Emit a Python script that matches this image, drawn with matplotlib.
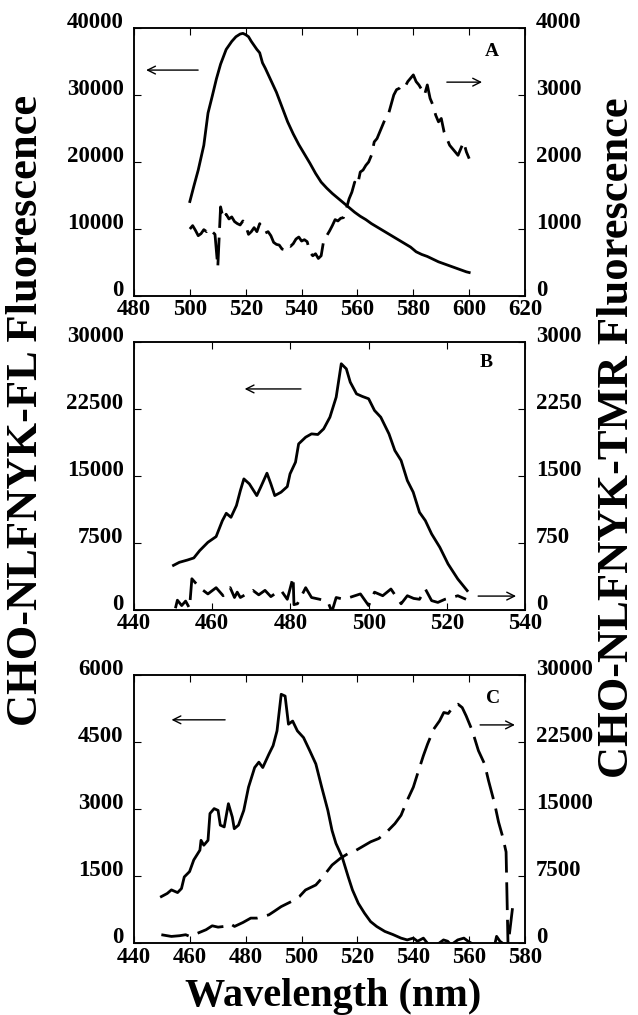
import numpy as np
import matplotlib.pyplot as plt

plt.rcParams['font.family'] = ['Liberation Serif', 'DejaVu Serif']
plt.rcParams['font.weight'] = 'bold'

# ---- panel A (FL left axis, TMR right axis)
a_fl_x = [500, 501.5, 503, 505, 506.5, 508, 509.5, 511, 513, 515, 516.5, 518, 519, 520, 521, 522, 523,
          524, 525, 526, 527, 529, 531, 533, 535, 537, 539, 541, 543, 545, 547, 549, 551, 553, 555, 557,
          559, 561, 563, 565, 567, 569, 571, 573, 575, 577, 579, 581, 583, 585, 587, 589, 591, 593, 595,
          597, 599, 600]
a_fl_y = [14100, 16500, 18800, 22500, 27300, 29800, 32400, 34600, 36800, 38000, 38700, 39100, 39200,
          39000, 38700, 38000, 37400, 36800, 36300, 34800, 34000, 32200, 30400, 28200, 26000, 24200,
          22600, 21200, 19800, 18300, 17000, 16100, 15300, 14600, 13900, 13200, 12500, 11900, 11400,
          10800, 10300, 9800, 9300, 8800, 8300, 7800, 7300, 6600, 6200, 5900, 5500, 5100, 4800, 4500,
          4200, 3900, 3600, 3500]
a_tmr_x = list(range(500, 601))
a_tmr_y = [1000, 1050, 980, 900, 930, 990, 960, 1010, 960, 920, 430, 1330, 1150, 1220, 1150, 1180, 1110,
           1080, 1060, 1120, 1050, 920, 960, 1020, 960, 1080, 1000, 940, 960, 900, 800, 770, 760, 700,
           690, 760, 740, 780, 850, 880, 820, 840, 810, 650, 600, 630, 560, 600, 850, 900, 970, 1050,
           1140, 1120, 1160, 1170, 1300, 1450, 1550, 1700, 1650, 1850, 1880, 1950, 2000, 2100, 2300,
           2350, 2450, 2550, 2650, 2700, 2850, 3000, 3080, 3100, 3150, 3120, 3200, 3250, 3300, 3200,
           3150, 3080, 3000, 3150, 2950, 2850, 2700, 2600, 2650, 2450, 2350, 2250, 2200, 2150, 2100,
           2200, 2300, 2150, 2050]

# ---- panel B
b_fl_x = [450.1, 451.6, 453.7, 455.3, 456.8, 458.9, 461, 462.6, 463.6, 464.8, 466.2, 467.2, 468.1, 469.5,
          471.4, 472.4, 474, 475, 476, 477.6, 479.2, 479.9, 481.3, 482.1, 483.9, 485.4, 487, 488.5,
          490.1, 491.7, 493, 494.3, 495.3, 496.9, 498.4, 500, 501.5, 503.1, 505.2, 506.7, 508.3, 509.9,
          511.4, 513, 514.5, 516.1, 518.2, 520.3, 522.8, 525.2]
b_fl_y = [5000, 5340, 5600, 5830, 6650, 7580, 8220, 10000, 10830, 10380, 11700, 13370, 14680, 14120,
          12810, 13750, 15320, 14120, 12810, 13190, 13820, 15240, 16550, 18600, 19350, 19720, 19650,
          20280, 21590, 23830, 27570, 27000, 25510, 24200, 23910, 23650, 22340, 21590, 19720, 17860,
          16740, 14490, 13190, 10940, 10010, 8520, 7020, 5160, 3470, 2170]
b_tmr_x = [450.6, 451.1, 452.2, 453.2, 454.2, 454.8, 456.8, 458.9, 461, 462.8, 464.6, 465.7, 466.4,
           467.2, 468.8, 470.4, 471.9, 473.5, 475, 476.3, 477.6, 479.2, 480.7, 480.9, 481.8, 483.9,
           485.4, 487.5, 489.6, 490.6, 491.7, 493.7, 495.8, 497.9, 500, 501.5, 503.6, 505.7, 508.3,
           509.9, 511.5, 513, 514.5, 516.1, 517.7, 519.5, 521.3, 522.8, 524.9]
b_tmr_y = [20, 110, 50, 100, 20, 350, 250, 180, 250, 160, 250, 140, 200, 140, 180, 220, 170, 220, 150,
           190, 220, 120, 370, 60, 70, 250, 140, 120, 90, -20, 140, 120, 150, 180, 50, 200, 160, 235,
           70, 160, 130, 120, 235, 105, 85, 120, 140, 160, 120]

# ---- panel C
c_fl_x = [449.8, 451.9, 453.4, 455.6, 457, 458, 459.9, 461.4, 463.6, 464, 465, 466.5, 467.2, 468.7,
          470.1, 470.9, 472.3, 473.8, 475.2, 475.9, 477.4, 479.3, 481, 483.2, 484.7, 486.1, 488.3,
          489.8, 491.2, 492.7, 494.1, 495.3, 496.8, 498.5, 500.7, 502.9, 505.1, 507.2, 509.4, 510.9,
          512.3, 514.5, 516.7, 518.2, 520.3, 522.5, 524.7, 526.9, 529.8, 532.7, 535.6, 537.8, 540,
          541.5, 543.6, 545.5, 548, 550.8, 552.3, 553.5, 555.9, 558.1, 559.6, 562, 566, 569.2, 569.8,
          571, 573, 575]
c_fl_y = [1040, 1110, 1190, 1130, 1220, 1480, 1600, 1860, 2080, 2300, 2190, 2300, 2900, 3010, 2970,
          2640, 2600, 3120, 2820, 2560, 2640, 2970, 3490, 3930, 4050, 3930, 4230, 4420, 4750, 5570,
          5530, 4900, 4970, 4750, 4600, 4310, 4010, 3490, 2970, 2520, 2230, 1930, 1480, 1190, 890, 670,
          480, 370, 260, 190, 110, 70, 110, 40, 110, -40, -60, 70, 40, -40, 70, 110, 40, -50, -60, -20,
          150, 40, -50, -60]
c_tmr_x = [449.8, 453.4, 456.3, 458.5, 460, 462, 465.8, 468, 470.1, 472.3, 474.5, 476, 479, 481.8, 484,
           486.1, 488.3, 490.1, 492.7, 496.3, 499.2, 501.4, 505.1, 507.2, 510.9, 513.8, 516.7, 519.6,
           524.7, 527.6, 530.5, 533.4, 535.6, 537.8, 540, 541.5, 543.6, 545.1, 547.3, 549.4, 550.9,
           552.5, 554.5, 556, 557.5, 558.9, 561.1, 563.3, 565.5, 566.9, 569.1, 570.5, 572, 573.2, 573.9,
           575.5]
c_tmr_y = [930, 740, 820, 930, 740, 1000, 1490, 1930, 1780, 1860, 2150, 1860, 2300, 2790, 2790, 2970,
           3160, 3530, 4080, 4640, 5200, 5940, 6500, 7240, 8730, 9470, 10030, 10400, 11330, 11700,
           12440, 13370, 14300, 15970, 17450, 18940, 20980, 22280, 23950, 24880, 25810, 25700, 26550,
           26740, 26360, 25440, 23770, 21540, 20050, 18200, 15600, 13550, 11880, 10200, -300, 3900]

panels = [
    dict(x1=a_fl_x, y1=a_fl_y, x2=a_tmr_x, y2=a_tmr_y, xlim=(480, 620), xt=np.arange(480, 621, 20),
         yl=(0, 40000), ylt=np.arange(0, 40001, 10000), yr=(0, 4000), yrt=np.arange(0, 4001, 1000),
         letter='A', lpos=(0.916, 0.914),
         arrows=[((0.031, 0.843), (0.164, 0.843)), ((0.89, 0.798), (0.80, 0.798))]),
    dict(x1=b_fl_x, y1=b_fl_y, x2=b_tmr_x, y2=b_tmr_y, xlim=(440, 540), xt=np.arange(440, 541, 20),
         yl=(0, 30000), ylt=np.arange(0, 30001, 7500), yr=(0, 3000), yrt=np.arange(0, 3001, 750),
         letter='B', lpos=(0.90, 0.922),
         arrows=[((0.283, 0.825), (0.427, 0.825)), ((0.977, 0.052), (0.88, 0.052))]),
    dict(x1=c_fl_x, y1=c_fl_y, x2=c_tmr_x, y2=c_tmr_y, xlim=(440, 580), xt=np.arange(440, 581, 20),
         yl=(0, 6000), ylt=np.arange(0, 6001, 1500), yr=(0, 30000), yrt=np.arange(0, 30001, 7500),
         letter='C', lpos=(0.918, 0.914),
         arrows=[((0.096, 0.833), (0.233, 0.833)), ((0.974, 0.814), (0.885, 0.814))]),
]

fig = plt.figure(figsize=(6.38, 10.15), dpi=100)
bottoms = [0.7084, 0.399, 0.0709]

for p, b in zip(panels, bottoms):
    ax = fig.add_axes([0.210, b, 0.613, 0.264])
    ax2 = ax.twinx()
    ax.plot(p['x1'], p['y1'], color='black', lw=2)
    ax2.plot(p['x2'], p['y2'], color='black', lw=2, dashes=(10, 3.5))
    ax.set_xlim(*p['xlim'])
    ax.set_xticks(p['xt'])
    ax.set_ylim(*p['yl'])
    ax.set_yticks(p['ylt'])
    ax2.set_ylim(*p['yr'])
    ax2.set_yticks(p['yrt'])
    ax.tick_params(axis='x', direction='in', top=True, length=5, width=0.8, pad=2.5, labelsize=16.5)
    ax.tick_params(axis='y', direction='in', length=5, width=0.8, pad=7.5, labelsize=16.5)
    ax2.tick_params(axis='y', direction='in', length=5, width=0.8, pad=8, labelsize=16.5)
    # the y labels sit on their ticks (baseline) in the original
    for t in ax.get_yticklabels() + ax2.get_yticklabels():
        t.set_va('baseline')
    for a in (ax, ax2):
        for s in a.spines.values():
            s.set_linewidth(1.1)
    ax.text(p['lpos'][0], p['lpos'][1], p['letter'], transform=ax.transAxes, fontsize=14,
            fontweight='bold', ha='center', va='center')
    for head, tail in p['arrows']:
        ax.annotate('', xy=head, xytext=tail, xycoords='axes fraction', textcoords='axes fraction',
                    arrowprops=dict(arrowstyle='->', lw=1, color='black', mutation_scale=14,
                                    shrinkA=0, shrinkB=0))

fig.text(0.040, 0.596, 'CHO-NLFNYK-FL Fluorescence', rotation=90, fontsize=32, fontweight='bold',
         ha='center', va='center')
fig.text(0.967, 0.569, 'CHO-NLFNYK-TMR Fluorescence', rotation=90, fontsize=32, fontweight='bold',
         ha='center', va='center')
fig.text(0.522, 0.009, 'Wavelength (nm)', fontsize=29, fontweight='bold', ha='center', va='baseline')

fig.savefig('out.png', dpi=100)
